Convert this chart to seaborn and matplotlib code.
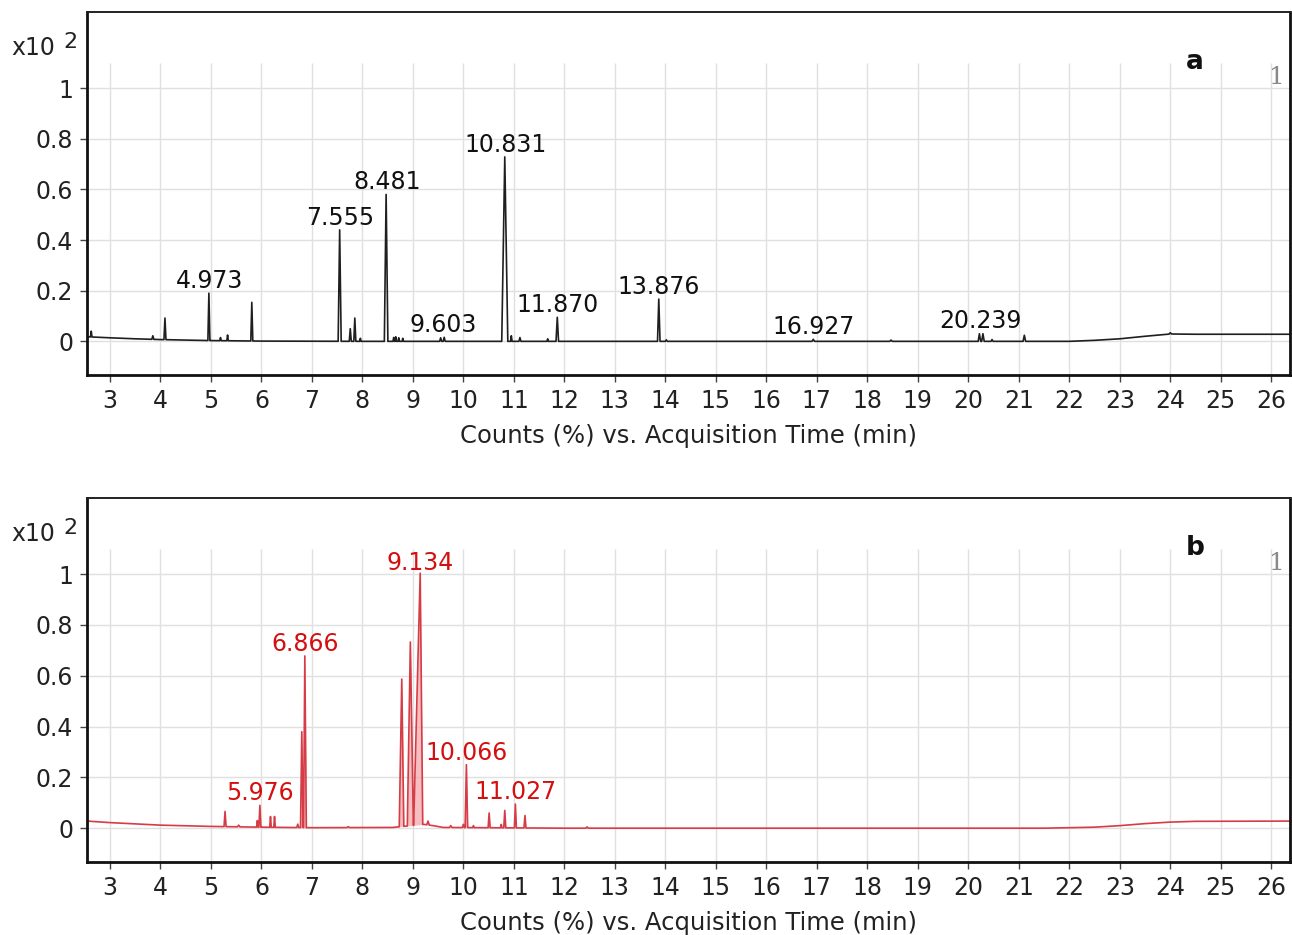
import matplotlib
matplotlib.use('Agg')
import matplotlib.pyplot as plt
import seaborn as sns
import pandas as pd
import numpy as np

# ---- data ----
# panel a (black trace)
base_a_t = [2.55, 3.0, 3.5, 4.0, 5.0, 6.0, 8.0, 12.0, 21.5, 22.0, 22.5, 23.0, 23.5, 24.0, 24.5, 26.4]
base_a_y = [0.018, 0.014, 0.010, 0.007, 0.003, 0.001, 0.0, 0.0, 0.0, 0.0, 0.004, 0.010, 0.020, 0.029, 0.028, 0.028]
peak_a_rt = [2.63, 3.85, 4.09, 4.96, 5.19, 5.33, 5.81, 7.55, 7.76, 7.85, 7.96, 8.47, 8.62, 8.66, 8.72,
             8.80, 9.55, 9.62, 10.82, 10.95, 11.12, 11.67, 11.86, 13.87, 14.02, 16.93, 18.47, 20.22,
             20.29, 20.47, 21.11, 24.0]
peak_a_h = [0.040, 0.022, 0.092, 0.190, 0.015, 0.025, 0.154, 0.440, 0.050, 0.092, 0.012, 0.580, 0.015,
            0.018, 0.014, 0.012, 0.014, 0.016, 0.728, 0.022, 0.015, 0.010, 0.095, 0.167, 0.006, 0.008,
            0.005, 0.030, 0.030, 0.007, 0.024, 0.034]
peak_a_wl = [0.015, 0.02, 0.02, 0.02, 0.015, 0.015, 0.02, 0.03, 0.02, 0.02, 0.015, 0.035, 0.015, 0.015,
             0.015, 0.015, 0.02, 0.02, 0.06, 0.015, 0.02, 0.015, 0.025, 0.025, 0.02, 0.025, 0.025, 0.025,
             0.025, 0.02, 0.025, 0.025]
peak_a_wr = peak_a_wl
label_a = ['4.973', '7.555', '8.481', '9.603', '10.831', '11.870', '13.876', '16.927', '20.239']
label_a_h = [0.190, 0.440, 0.580, 0.016, 0.728, 0.095, 0.167, 0.008, 0.032]

# panel b (red trace)
base_b_t = [2.55, 3.0, 3.5, 4.0, 5.0, 6.0, 7.0, 8.6, 9.22, 9.4, 9.6, 12.0, 21.5, 22.5, 23.0, 23.5, 24.0,
            24.5, 26.4]
base_b_y = [0.028, 0.022, 0.017, 0.012, 0.007, 0.004, 0.002, 0.003, 0.015, 0.010, 0.003, 0.0, 0.0, 0.004,
            0.010, 0.018, 0.024, 0.027, 0.028]
peak_b_rt = [5.28, 5.55, 5.92, 5.97, 6.18, 6.26, 6.72, 6.80, 6.86, 7.72, 8.78, 8.95, 9.145, 9.30, 9.75,
             10.00, 10.06, 10.20, 10.51, 10.75, 10.82, 11.03, 11.22, 12.45]
peak_b_h = [0.066, 0.012, 0.030, 0.090, 0.046, 0.046, 0.016, 0.380, 0.678, 0.006, 0.587, 0.733, 1.004,
            0.028, 0.010, 0.015, 0.250, 0.010, 0.060, 0.015, 0.070, 0.095, 0.050, 0.005]
peak_b_wl = [0.02, 0.025, 0.015, 0.02, 0.015, 0.015, 0.02, 0.025, 0.025, 0.025, 0.05, 0.06, 0.13, 0.025,
             0.025, 0.02, 0.025, 0.015, 0.02, 0.015, 0.02, 0.02, 0.02, 0.025]
peak_b_wr = [0.02, 0.025, 0.015, 0.02, 0.015, 0.015, 0.02, 0.025, 0.03, 0.025, 0.04, 0.06, 0.05, 0.025,
             0.025, 0.02, 0.025, 0.015, 0.02, 0.015, 0.02, 0.02, 0.02, 0.025]
label_b = ['5.976', '6.866', '9.134', '10.066', '11.027']
label_b_h = [0.090, 0.678, 0.995, 0.250, 0.095]

x_ticks = list(range(3, 27))
y_ticks = [0, 0.2, 0.4, 0.6, 0.8, 1.0]
y_tick_labels = ['0', '0.2', '0.4', '0.6', '0.8', '1']


def build_trace(bt, by, rt, h, wl, wr):
    # polyline: baseline knots plus a triangle for each peak
    pts = []
    spans = []
    for r, hh, a, b_ in zip(rt, h, wl, wr):
        lo, hi = r - a, r + b_
        pts += [(lo, float(np.interp(lo, bt, by))), (r, hh), (hi, float(np.interp(hi, bt, by)))]
        spans.append((lo, hi))
    for t, y in zip(bt, by):
        if not any(lo <= t <= hi for lo, hi in spans):
            pts.append((t, y))
    pts.sort()
    df = pd.DataFrame(pts, columns=['time', 'counts'])
    df['base'] = np.interp(df['time'], bt, by)
    return df


sns.set_theme(style='white')
plt.rcParams['font.family'] = ['DejaVu Sans']

fig = plt.figure(figsize=(12.92, 9.35), dpi=100)
ax_a = fig.add_axes([0.0673, 0.5989, 0.9311, 0.3882])
ax_b = fig.add_axes([0.0673, 0.0781, 0.9311, 0.3893])

panels = [
    (ax_a, build_trace(base_a_t, base_a_y, peak_a_rt, peak_a_h, peak_a_wl, peak_a_wr), label_a, label_a_h,
     '#1f1f1f', '#111111', 'a', False),
    (ax_b, build_trace(base_b_t, base_b_y, peak_b_rt, peak_b_h, peak_b_wl, peak_b_wr), label_b, label_b_h,
     '#d63c46', '#d40f0f', 'b', True),
]

for ax, df, labels, lab_h, line_col, text_col, tag, filled in panels:
    ax.set_xlim(2.545, 26.37)
    ax.set_ylim(-0.133, 1.30)
    ax.set_yticks(y_ticks)
    ax.set_yticklabels(y_tick_labels)
    ax.set_xticks(x_ticks)
    ax.grid(axis='y', color='#e0e0e0', lw=1.0, zorder=0)
    ax.vlines(x_ticks, -0.133, 1.10, color='#e0e0e0', lw=1.0, zorder=0)

    if filled:
        ax.fill_between(df['time'], df['base'], df['counts'], color='#f4a3a8', alpha=0.7, lw=0, zorder=1)
    sns.lineplot(data=df, x='time', y='counts', ax=ax, color=line_col, lw=1.2,
                 estimator=None, sort=False, zorder=2)

    for lab, hh in zip(labels, lab_h):
        ax.annotate(lab, (float(lab), hh), xytext=(0, 0), textcoords='offset points',
                    ha='center', va='bottom', fontsize=17, color=text_col, zorder=3)

    ax.text(0.921, 0.862, tag, transform=ax.transAxes, fontsize=19, fontweight='bold',
            ha='center', va='center', color='#111111')
    ax.text(0.989, 0.82, '1', transform=ax.transAxes, fontsize=18, color='#8a8a8a',
            ha='center', va='center', family='DejaVu Serif')
    ax.text(-0.0449, 0.900, 'x10', transform=ax.transAxes, fontsize=17, ha='center', va='center',
            color='#222222')
    ax.text(-0.0135, 0.917, '2', transform=ax.transAxes, fontsize=16, ha='center', va='center',
            color='#222222')

    for side in ['left', 'bottom', 'right']:
        ax.spines[side].set_linewidth(2.0)
        ax.spines[side].set_color('#111111')
    ax.spines['top'].set_linewidth(1.4)
    ax.spines['top'].set_color('#222222')

    ax.tick_params(axis='both', which='major', labelsize=17, direction='out', length=5,
                   width=1.0, color='#444444', labelcolor='#222222', pad=5,
                   bottom=True, left=True)
    ax.set_xlabel('Counts (%) vs. Acquisition Time (min)', fontsize=17.5, color='#222222', labelpad=8)
    ax.set_ylabel('')

fig.savefig('out.png', dpi=100)
